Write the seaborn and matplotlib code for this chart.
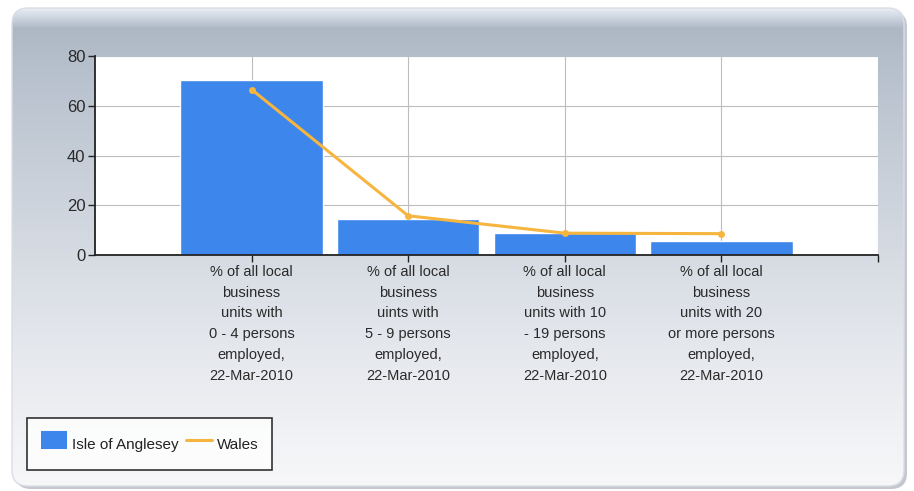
import numpy as np
import pandas as pd
import matplotlib
matplotlib.use("Agg")
import matplotlib.pyplot as plt
from matplotlib.patches import FancyBboxPatch
from matplotlib.lines import Line2D
import seaborn as sns

# Data
categories = [
    "% of all local\nbusiness\nunits with\n0 - 4 persons\nemployed,\n22-Mar-2010",
    "% of all local\nbusiness\nuints with\n5 - 9 persons\nemployed,\n22-Mar-2010",
    "% of all local\nbusiness\nunits with 10\n- 19 persons\nemployed,\n22-Mar-2010",
    "% of all local\nbusiness\nunits with 20\nor more persons\nemployed,\n22-Mar-2010",
]
anglesey = [70.7, 14.5, 8.9, 5.7]
wales = [66.7, 15.8, 8.8, 8.6]
y_ticks = [0, 20, 40, 60, 80]

BAR_COLOR = "#3D86EC"
LINE_COLOR = "#F5B53F"
FONT = ["Liberation Sans", "DejaVu Sans"]

sns.set_theme(style="white")
plt.rcParams["font.family"] = FONT

W, H = 914, 491
fig = plt.figure(figsize=(W / 100, H / 100), dpi=100)
fig.patch.set_facecolor("white")

# Rounded panel with vertical gradient behind the chart
bg = fig.add_axes([0, 0, 1, 1], zorder=-10)
bg.set_xlim(0, W)
bg.set_ylim(H, 0)
bg.axis("off")

shadow = FancyBboxPatch((15, 11), 892, 478, boxstyle="round,pad=0,rounding_size=16",
                        facecolor="#C4C8CE", edgecolor="none", zorder=-2)
bg.add_patch(shadow)
panel = FancyBboxPatch((12, 8), 892, 478, boxstyle="round,pad=0,rounding_size=16",
                       facecolor="none", edgecolor="#DADEE4", linewidth=1.0, zorder=1)
bg.add_patch(panel)

stops_y = np.array([8, 14, 28, 60, 150, 255, 350, 450, 486])
stops_c = np.array([
    [0.92, 0.93, 0.95],
    [0.84, 0.87, 0.91],
    [0.68, 0.72, 0.77],
    [0.71, 0.75, 0.80],
    [0.77, 0.80, 0.84],
    [0.84, 0.86, 0.89],
    [0.90, 0.91, 0.93],
    [0.95, 0.955, 0.965],
    [0.97, 0.97, 0.975],
])
ys = np.arange(H)
grad = np.stack([np.interp(ys, stops_y, stops_c[:, k]) for k in range(3)], axis=-1)
grad = np.repeat(grad[:, None, :], 2, axis=1)
im = bg.imshow(grad, extent=(0, W, H, 0), aspect="auto", interpolation="bilinear", zorder=0)
im.set_clip_path(panel)

# Main plot area
ax = fig.add_axes([95 / W, 1 - 255 / H, (878 - 95) / W, (255 - 56.5) / H])
ax.set_facecolor("white")

df = pd.DataFrame({"category": categories, "Isle of Anglesey": anglesey, "Wales": wales})
x = np.arange(len(categories))

sns.barplot(data=df, x="category", y="Isle of Anglesey", color=BAR_COLOR,
            saturation=1, width=0.91, ax=ax, zorder=2)
sns.lineplot(x=x, y=df["Wales"].values, color=LINE_COLOR, linewidth=2.2,
             marker="o", markersize=5, markeredgewidth=0, ax=ax, zorder=3)

ax.set_xlim(-1, 4)
ax.set_ylim(0, 80)
ax.set_yticks(y_ticks)
ax.set_yticklabels([str(v) for v in y_ticks], fontsize=12, color="#2A2A2A")
ax.set_xticks(list(x) + [4])
ax.set_xticklabels(categories + [""], fontsize=10.5, color="#2A2A2A", linespacing=1.62)
ax.set_xlabel("")
ax.set_ylabel("")

ax.grid(True, color="#BDBDBD", linewidth=0.8, zorder=0)
ax.set_axisbelow(True)
for s in ["top", "right"]:
    ax.spines[s].set_visible(False)
for s in ["left", "bottom"]:
    ax.spines[s].set_color("#222222")
    ax.spines[s].set_linewidth(1.3)
ax.tick_params(axis="both", which="both", direction="out", length=5, width=1,
               color="#222222", left=True, bottom=True, pad=2)

# Legend
handles = [
    Line2D([0], [0], color=BAR_COLOR, linewidth=13, solid_capstyle="butt",
           label="Isle of Anglesey"),
    Line2D([0], [0], color=LINE_COLOR, linewidth=2.2, label="Wales"),
]
leg = fig.legend(handles=handles, loc="lower left",
                 bbox_to_anchor=(27 / W, 1 - 470 / H), ncol=2, frameon=True,
                 fancybox=False, handlelength=1.75, handleheight=2.1,
                 columnspacing=0.45, borderpad=0.9, handletextpad=0.3,
                 borderaxespad=0,
                 prop={"family": FONT, "size": 11})
leg.get_frame().set_edgecolor("black")
leg.get_frame().set_linewidth(1.2)
leg.get_frame().set_facecolor("white")
for t in leg.get_texts():
    t.set_color("#222222")

fig.savefig("out.png", dpi=100)
